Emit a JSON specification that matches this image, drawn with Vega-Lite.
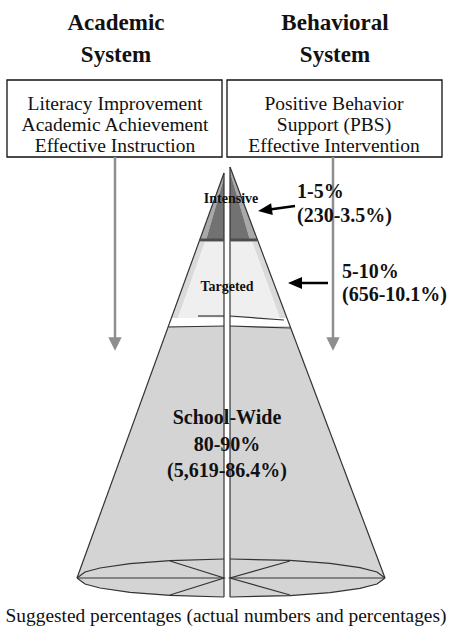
{
  "$schema": "https://vega.github.io/schema/vega-lite/v6.json",
  "width": 449,
  "height": 639,
  "autosize": {"type": "fit", "contains": "padding"},
  "padding": 0,
  "background": "white",
  "config": {"view": {"stroke": null}},
  "datasets": {
    "fills": [
      {"shape": "intStripL", "part": "intStrip", "y": 173, "x": 224, "x2": 224},
      {"shape": "intStripL", "part": "intStrip", "y": 178, "x": 222.2, "x2": 224},
      {"shape": "intStripL", "part": "intStrip", "y": 240, "x": 199.7, "x2": 206},
      {"shape": "intDarkL", "part": "intDark", "y": 178, "x": 224, "x2": 224},
      {"shape": "intDarkL", "part": "intDark", "y": 240, "x": 206, "x2": 224},
      {"shape": "intStripR", "part": "intStrip", "y": 167, "x": 230, "x2": 230},
      {"shape": "intStripR", "part": "intStrip", "y": 172, "x": 230, "x2": 231.9},
      {"shape": "intStripR", "part": "intStrip", "y": 240, "x": 250, "x2": 257.5},
      {"shape": "intDarkR", "part": "intDark", "y": 172, "x": 230, "x2": 230},
      {"shape": "intDarkR", "part": "intDark", "y": 240, "x": 230, "x2": 250},
      {"shape": "tgtStripL", "part": "tgtStrip", "y": 242, "x": 199.0, "x2": 205},
      {"shape": "tgtStripL", "part": "tgtStrip", "y": 318, "x": 171.4, "x2": 178},
      {"shape": "tgtInL", "part": "tgtIn", "y": 242, "x": 205, "x2": 224},
      {"shape": "tgtInL", "part": "tgtIn", "y": 318, "x": 178, "x2": 224},
      {"shape": "tgtInR", "part": "tgtIn", "y": 242, "x": 230, "x2": 252.3},
      {"shape": "tgtInR", "part": "tgtIn", "y": 318, "x": 230, "x2": 280},
      {"shape": "tgtStripR", "part": "tgtStrip", "y": 242, "x": 252.3, "x2": 258.3},
      {"shape": "tgtStripR", "part": "tgtStrip", "y": 318, "x": 280, "x2": 286.9},
      {"shape": "schoolL", "part": "school", "y": 326, "x": 168.5, "x2": 224},
      {"shape": "schoolL", "part": "school", "y": 578, "x": 77, "x2": 224},
      {"shape": "schoolL", "part": "school", "y": 583, "x": 82.4, "x2": 224},
      {"shape": "schoolL", "part": "school", "y": 587, "x": 95.4, "x2": 224},
      {"shape": "schoolL", "part": "school", "y": 590, "x": 111.6, "x2": 224},
      {"shape": "schoolL", "part": "school", "y": 593, "x": 136.5, "x2": 224},
      {"shape": "schoolL", "part": "school", "y": 595, "x": 162.2, "x2": 224},
      {"shape": "schoolL", "part": "school", "y": 596.5, "x": 195.9, "x2": 224},
      {"shape": "schoolL", "part": "school", "y": 597, "x": 224, "x2": 224},
      {"shape": "schoolR", "part": "school", "y": 326, "x": 230, "x2": 290},
      {"shape": "schoolR", "part": "school", "y": 578, "x": 230, "x2": 385},
      {"shape": "schoolR", "part": "school", "y": 583, "x": 230, "x2": 379.6},
      {"shape": "schoolR", "part": "school", "y": 587, "x": 230, "x2": 366.6},
      {"shape": "schoolR", "part": "school", "y": 590, "x": 230, "x2": 350.4},
      {"shape": "schoolR", "part": "school", "y": 593, "x": 230, "x2": 325.5},
      {"shape": "schoolR", "part": "school", "y": 595, "x": 230, "x2": 299.8},
      {"shape": "schoolR", "part": "school", "y": 596.5, "x": 230, "x2": 266.1},
      {"shape": "schoolR", "part": "school", "y": 597, "x": 230, "x2": 230}
    ],
    "outlines": [
      {"g": "edgeL", "o": 0, "x": 224, "y": 173},
      {"g": "edgeL", "o": 1, "x": 77, "y": 578},
      {"g": "edgeR", "o": 0, "x": 230, "y": 167},
      {"g": "edgeR", "o": 1, "x": 385, "y": 578},
      {"g": "splitL", "o": 0, "x": 224, "y": 173},
      {"g": "splitL", "o": 1, "x": 224, "y": 597},
      {"g": "splitR", "o": 0, "x": 230, "y": 167},
      {"g": "splitR", "o": 1, "x": 230, "y": 597},
      {"g": "arcTopL", "o": 0, "x": 77, "y": 578},
      {"g": "arcTopL", "o": 1, "x": 85, "y": 572},
      {"g": "arcTopL", "o": 2, "x": 100, "y": 568},
      {"g": "arcTopL", "o": 3, "x": 130, "y": 563.7},
      {"g": "arcTopL", "o": 4, "x": 170, "y": 560.6},
      {"g": "arcTopL", "o": 5, "x": 224, "y": 559},
      {"g": "arcBotL", "o": 0, "x": 77, "y": 578},
      {"g": "arcBotL", "o": 1, "x": 85, "y": 584},
      {"g": "arcBotL", "o": 2, "x": 100, "y": 588},
      {"g": "arcBotL", "o": 3, "x": 130, "y": 592.3},
      {"g": "arcBotL", "o": 4, "x": 170, "y": 595.4},
      {"g": "arcBotL", "o": 5, "x": 224, "y": 597},
      {"g": "arcTopR", "o": 0, "x": 230, "y": 559},
      {"g": "arcTopR", "o": 1, "x": 290, "y": 560.4},
      {"g": "arcTopR", "o": 2, "x": 330, "y": 563.4},
      {"g": "arcTopR", "o": 3, "x": 360, "y": 567.6},
      {"g": "arcTopR", "o": 4, "x": 377, "y": 572},
      {"g": "arcTopR", "o": 5, "x": 385, "y": 578},
      {"g": "arcBotR", "o": 0, "x": 230, "y": 597},
      {"g": "arcBotR", "o": 1, "x": 290, "y": 595.6},
      {"g": "arcBotR", "o": 2, "x": 330, "y": 592.6},
      {"g": "arcBotR", "o": 3, "x": 360, "y": 588.4},
      {"g": "arcBotR", "o": 4, "x": 377, "y": 584},
      {"g": "arcBotR", "o": 5, "x": 385, "y": 578},
      {"g": "diamL", "o": 0, "x": 77, "y": 578},
      {"g": "diamL", "o": 1, "x": 224, "y": 578},
      {"g": "diamR", "o": 0, "x": 230, "y": 578},
      {"g": "diamR", "o": 1, "x": 385, "y": 578},
      {"g": "diagL", "o": 0, "x": 170, "y": 561},
      {"g": "diagL", "o": 1, "x": 224, "y": 578},
      {"g": "diagL", "o": 2, "x": 170, "y": 595},
      {"g": "diagR", "o": 0, "x": 290, "y": 561},
      {"g": "diagR", "o": 1, "x": 230, "y": 578},
      {"g": "diagR", "o": 2, "x": 290, "y": 595},
      {"g": "rimTopL", "o": 0, "x": 198, "y": 316},
      {"g": "rimTopL", "o": 1, "x": 224, "y": 316},
      {"g": "rimTopR", "o": 0, "x": 230, "y": 316},
      {"g": "rimTopR", "o": 1, "x": 284, "y": 320},
      {"g": "rimBotL", "o": 0, "x": 168.5, "y": 327},
      {"g": "rimBotL", "o": 1, "x": 224, "y": 326},
      {"g": "rimBotR", "o": 0, "x": 230, "y": 326},
      {"g": "rimBotR", "o": 1, "x": 290.5, "y": 328}
    ],
    "intBottom": [
      {"g": "L", "o": 0, "x": 199.7, "y": 240},
      {"g": "L", "o": 1, "x": 224, "y": 240},
      {"g": "R", "o": 0, "x": 230, "y": 240},
      {"g": "R", "o": 1, "x": 257.5, "y": 240}
    ],
    "boxes": [
      {"x": 7, "x2": 222, "y": 80, "y2": 157},
      {"x": 227, "x2": 442, "y": 80, "y2": 157}
    ],
    "grayShafts": [
      {"g": "acad", "o": 0, "x": 115, "y": 157},
      {"g": "acad", "o": 1, "x": 115, "y": 340},
      {"g": "behav", "o": 0, "x": 333, "y": 157},
      {"g": "behav", "o": 1, "x": 333, "y": 340}
    ],
    "grayHeads": [
      {"x": 115, "y": 344},
      {"x": 333, "y": 344}
    ],
    "blackShafts": [
      {"g": "a1", "o": 0, "x": 295, "y": 206},
      {"g": "a1", "o": 1, "x": 266, "y": 210},
      {"g": "a2", "o": 0, "x": 328, "y": 283},
      {"g": "a2", "o": 1, "x": 296, "y": 283}
    ],
    "blackHead1": [{"x": 265, "y": 210}],
    "blackHead2": [{"x": 295, "y": 283}],
    "titles": [
      {"x": 116, "y": 30, "text": "Academic"},
      {"x": 116, "y": 62, "text": "System"},
      {"x": 335, "y": 30, "text": "Behavioral"},
      {"x": 335, "y": 62, "text": "System"}
    ],
    "boxText": [
      {"x": 115, "y": 110, "text": "Literacy Improvement"},
      {"x": 115, "y": 131, "text": "Academic Achievement"},
      {"x": 115, "y": 152, "text": "Effective Instruction"},
      {"x": 334, "y": 110, "text": "Positive Behavior"},
      {"x": 334, "y": 131, "text": "Support (PBS)"},
      {"x": 334, "y": 152, "text": "Effective Intervention"}
    ],
    "tierLabels": [
      {"x": 231, "y": 203, "text": "Intensive"},
      {"x": 227, "y": 291, "text": "Targeted"}
    ],
    "pctLabels": [
      {"x": 297, "y": 198, "text": "1-5%"},
      {"x": 297, "y": 222, "text": "(230-3.5%)"},
      {"x": 342, "y": 278, "text": "5-10%"},
      {"x": 342, "y": 301, "text": "(656-10.1%)"}
    ],
    "schoolText": [
      {"x": 227, "y": 424, "text": "School-Wide"},
      {"x": 227, "y": 451, "text": "80-90%"},
      {"x": 227, "y": 477, "text": "(5,619-86.4%)"}
    ],
    "caption": [
      {"x": 226, "y": 622, "text": "Suggested percentages (actual numbers and percentages)"}
    ]
  },
  "layer": [
    {
      "data": {"name": "fills"},
      "mark": {"type": "area", "orient": "horizontal", "opacity": 1},
      "encoding": {
        "y": {"field": "y", "type": "quantitative", "scale": {"domain": [0, 639], "reverse": true, "nice": false, "zero": false}, "axis": null},
        "x": {"field": "x", "type": "quantitative", "stack": null, "scale": {"domain": [0, 449], "nice": false, "zero": false}, "axis": null},
        "x2": {"field": "x2"},
        "detail": {"field": "shape", "type": "nominal"},
        "color": {"field": "part", "type": "nominal", "legend": null,
          "scale": {"domain": ["intStrip", "intDark", "tgtStrip", "tgtIn", "school"],
                    "range": ["#a9a9a9", "#727272", "#dadada", "#efefef", "#d4d4d4"]}}
      }
    },
    {
      "data": {"name": "outlines"},
      "mark": {"type": "line", "color": "#333333", "strokeWidth": 1.2},
      "encoding": {
        "x": {"field": "x", "type": "quantitative", "axis": null},
        "y": {"field": "y", "type": "quantitative", "axis": null},
        "detail": {"field": "g", "type": "nominal"},
        "order": {"field": "o", "type": "quantitative"}
      }
    },
    {
      "data": {"name": "intBottom"},
      "mark": {"type": "line", "color": "#4d4d4d", "strokeWidth": 3},
      "encoding": {
        "x": {"field": "x", "type": "quantitative", "axis": null},
        "y": {"field": "y", "type": "quantitative", "axis": null},
        "detail": {"field": "g", "type": "nominal"},
        "order": {"field": "o", "type": "quantitative"}
      }
    },
    {
      "data": {"name": "boxes"},
      "mark": {"type": "rect", "fill": null, "stroke": "#111111", "strokeWidth": 1.3},
      "encoding": {
        "x": {"field": "x", "type": "quantitative", "axis": null},
        "x2": {"field": "x2"},
        "y": {"field": "y", "type": "quantitative", "axis": null},
        "y2": {"field": "y2"}
      }
    },
    {
      "data": {"name": "grayShafts"},
      "mark": {"type": "line", "color": "#8e8e8e", "strokeWidth": 2.5},
      "encoding": {
        "x": {"field": "x", "type": "quantitative", "axis": null},
        "y": {"field": "y", "type": "quantitative", "axis": null},
        "detail": {"field": "g", "type": "nominal"},
        "order": {"field": "o", "type": "quantitative"}
      }
    },
    {
      "data": {"name": "grayHeads"},
      "mark": {"type": "point", "shape": "M-1,-1L1,-1L0,1Z", "size": 180, "filled": true, "color": "#8e8e8e", "opacity": 1},
      "encoding": {
        "x": {"field": "x", "type": "quantitative", "axis": null},
        "y": {"field": "y", "type": "quantitative", "axis": null}
      }
    },
    {
      "data": {"name": "blackShafts"},
      "mark": {"type": "line", "color": "#000000", "strokeWidth": 2.5},
      "encoding": {
        "x": {"field": "x", "type": "quantitative", "axis": null},
        "y": {"field": "y", "type": "quantitative", "axis": null},
        "detail": {"field": "g", "type": "nominal"},
        "order": {"field": "o", "type": "quantitative"}
      }
    },
    {
      "data": {"name": "blackHead1"},
      "mark": {"type": "point", "shape": "M-1,0L1,-0.85L1,0.85Z", "size": 196, "filled": true, "color": "#000000", "opacity": 1, "angle": -8},
      "encoding": {
        "x": {"field": "x", "type": "quantitative", "axis": null},
        "y": {"field": "y", "type": "quantitative", "axis": null}
      }
    },
    {
      "data": {"name": "blackHead2"},
      "mark": {"type": "point", "shape": "M-1,0L1,-0.85L1,0.85Z", "size": 196, "filled": true, "color": "#000000", "opacity": 1},
      "encoding": {
        "x": {"field": "x", "type": "quantitative", "axis": null},
        "y": {"field": "y", "type": "quantitative", "axis": null}
      }
    },
    {
      "data": {"name": "titles"},
      "mark": {"type": "text", "font": "Liberation Serif", "fontSize": 23, "fontWeight": "bold", "align": "center", "baseline": "alphabetic", "color": "#111111"},
      "encoding": {
        "x": {"field": "x", "type": "quantitative", "axis": null},
        "y": {"field": "y", "type": "quantitative", "axis": null},
        "text": {"field": "text"}
      }
    },
    {
      "data": {"name": "boxText"},
      "mark": {"type": "text", "font": "Liberation Serif", "fontSize": 19.5, "align": "center", "baseline": "alphabetic", "color": "#111111"},
      "encoding": {
        "x": {"field": "x", "type": "quantitative", "axis": null},
        "y": {"field": "y", "type": "quantitative", "axis": null},
        "text": {"field": "text"}
      }
    },
    {
      "data": {"name": "tierLabels"},
      "mark": {"type": "text", "font": "Liberation Serif", "fontSize": 14, "fontWeight": "bold", "align": "center", "baseline": "alphabetic", "color": "#111111"},
      "encoding": {
        "x": {"field": "x", "type": "quantitative", "axis": null},
        "y": {"field": "y", "type": "quantitative", "axis": null},
        "text": {"field": "text"}
      }
    },
    {
      "data": {"name": "pctLabels"},
      "mark": {"type": "text", "font": "Liberation Serif", "fontSize": 20, "fontWeight": "bold", "align": "left", "baseline": "alphabetic", "color": "#111111"},
      "encoding": {
        "x": {"field": "x", "type": "quantitative", "axis": null},
        "y": {"field": "y", "type": "quantitative", "axis": null},
        "text": {"field": "text"}
      }
    },
    {
      "data": {"name": "schoolText"},
      "mark": {"type": "text", "font": "Liberation Serif", "fontSize": 20, "fontWeight": "bold", "align": "center", "baseline": "alphabetic", "color": "#111111"},
      "encoding": {
        "x": {"field": "x", "type": "quantitative", "axis": null},
        "y": {"field": "y", "type": "quantitative", "axis": null},
        "text": {"field": "text"}
      }
    },
    {
      "data": {"name": "caption"},
      "mark": {"type": "text", "font": "Liberation Serif", "fontSize": 19.4, "align": "center", "baseline": "alphabetic", "color": "#111111"},
      "encoding": {
        "x": {"field": "x", "type": "quantitative", "axis": null},
        "y": {"field": "y", "type": "quantitative", "axis": null},
        "text": {"field": "text"}
      }
    }
  ]
}
